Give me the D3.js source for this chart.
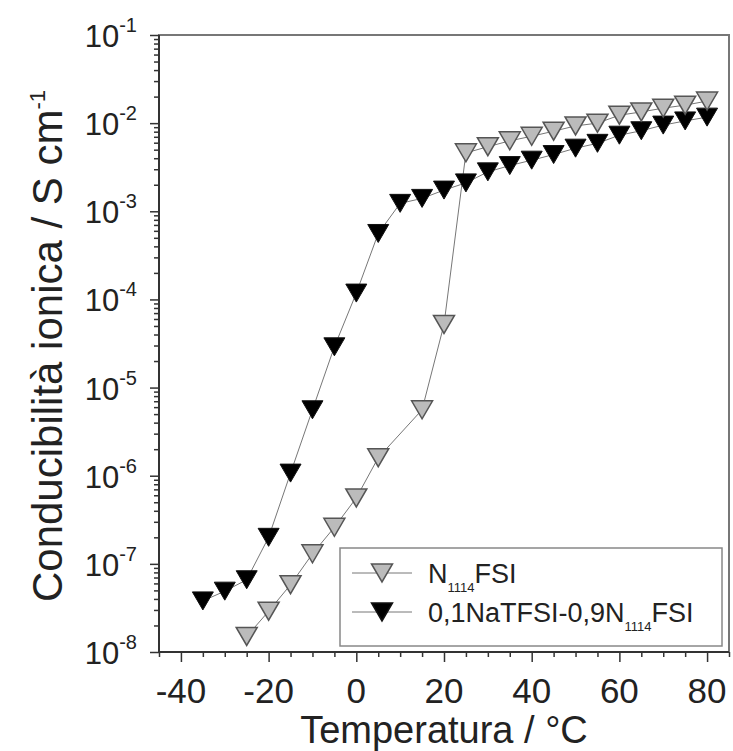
<!DOCTYPE html>
<html>
<head>
<meta charset="utf-8">
<script src="https://cdn.jsdelivr.net/npm/d3@7"></script>
<style>
  body { margin: 0; background: #fff; }
  svg text { font-family: "Liberation Sans", Arial, sans-serif; fill: #222; }
</style>
</head>
<body>
<svg id="chart" width="733" height="751"></svg>
<script>
// temperature in °C, conductivity in S cm-1
const tempPure = [-25, -20, -15, -10, -5, 0, 5, 15, 20, 25, 30, 35, 40, 45, 50, 55, 60, 65, 70, 75, 80];
const condPure = [1.5e-8, 2.9e-8, 5.8e-8, 1.3e-7, 2.6e-7, 5.6e-7, 1.6e-6, 5.6e-6, 5.2e-5,
  4.6e-3, 5.4e-3, 6.3e-3, 7.1e-3, 8.1e-3, 9.3e-3, 1.0e-2, 1.23e-2, 1.34e-2, 1.48e-2, 1.6e-2, 1.78e-2];

const tempNa = [-35, -30, -25, -20, -15, -10, -5, 0, 5, 10, 15, 20, 25, 30, 35, 40, 45, 50, 55, 60, 65, 70, 75, 80];
const condNa = [3.8e-8, 4.9e-8, 6.6e-8, 2.0e-7, 1.07e-6, 5.6e-6, 2.9e-5, 1.18e-4, 5.6e-4, 1.23e-3,
  1.4e-3, 1.74e-3, 2.1e-3, 2.8e-3, 3.3e-3, 3.8e-3, 4.4e-3, 5.2e-3, 5.9e-3, 7.3e-3, 8.2e-3, 9.5e-3, 1.06e-2, 1.17e-2];

const xTicks = [-40, -20, 0, 20, 40, 60, 80];
const yDecades = [-8, -7, -6, -5, -4, -3, -2, -1];

const seriesNames = ["N", "0,1NaTFSI-0,9N"];

const svg = d3.select("#chart");
const pLeft = 159, pRight = 729, pTop = 35, pBottom = 652;

const x = d3.scaleLinear().domain([-45, 85]).range([pLeft, pRight]);
const y = d3.scaleLog().domain([1e-8, 1e-1]).range([pBottom, pTop]);

// minor ticks
let xMinor = d3.range(-45, 86, 5).filter(v => xTicks.indexOf(v) < 0);
let yMinor = [];
for (let e = -8; e < -1; e++) {
  for (let k = 2; k <= 9; k++) yMinor.push(k * Math.pow(10, e));
}

// frame (top and right)
svg.append("rect")
  .attr("x", pLeft).attr("y", pTop)
  .attr("width", pRight - pLeft).attr("height", pBottom - pTop)
  .attr("fill", "none").attr("stroke", "#777").attr("stroke-width", 2);

// x axis
const xAxisMinor = d3.axisBottom(x).tickValues(xMinor).tickSize(5).tickFormat("");
const xAxisMajor = d3.axisBottom(x).tickValues(xTicks).tickSize(10).tickFormat("");
svg.append("g").attr("transform", "translate(0," + pBottom + ")").call(xAxisMinor);
svg.append("g").attr("transform", "translate(0," + pBottom + ")").call(xAxisMajor);

svg.append("g").selectAll("text")
  .data(xTicks).enter()
  .append("text")
  .attr("x", d => x(d))
  .attr("y", pBottom + 51)
  .attr("text-anchor", "middle")
  .attr("font-size", 35)
  .text(d => d);

// y axis
const yAxisMinor = d3.axisLeft(y).tickValues(yMinor).tickSize(5).tickFormat("");
const yAxisMajor = d3.axisLeft(y).tickValues(yDecades.map(e => Math.pow(10, e))).tickSize(9).tickFormat("");
svg.append("g").attr("transform", "translate(" + pLeft + ",0)").call(yAxisMinor);
svg.append("g").attr("transform", "translate(" + pLeft + ",0)").call(yAxisMajor);
svg.selectAll(".domain").remove();
svg.selectAll(".tick line").attr("stroke", "#333").attr("stroke-width", 1.5);

let yLab = svg.append("g").selectAll("text")
  .data(yDecades).enter()
  .append("text")
  .attr("x", 137)
  .attr("y", d => y(Math.pow(10, d)) + 12)
  .attr("text-anchor", "end")
  .attr("font-size", 31);
yLab.append("tspan").text("10");
yLab.append("tspan").attr("dy", -15).attr("font-size", 20).text(d => d);

// left and bottom axis lines
svg.append("line").attr("x1", pLeft).attr("x2", pLeft).attr("y1", pTop).attr("y2", pBottom)
  .attr("stroke", "#333").attr("stroke-width", 2);
svg.append("line").attr("x1", pLeft).attr("x2", pRight).attr("y1", pBottom).attr("y2", pBottom)
  .attr("stroke", "#333").attr("stroke-width", 2);

// axis titles
svg.append("text")
  .attr("x", (pLeft + pRight) / 2)
  .attr("y", 743)
  .attr("text-anchor", "middle")
  .attr("font-size", 38)
  .text("Temperatura / °C");

let yTitle = svg.append("text")
  .attr("transform", "translate(62,346) rotate(-90)")
  .attr("text-anchor", "middle")
  .attr("font-size", 42);
yTitle.append("tspan").text("Conducibilità ionica / S cm");
yTitle.append("tspan").attr("dy", -17).attr("font-size", 22).text("-1");

// triangle pointing down, centred on the point
function triangle(cx, cy) {
  const w = 21, h = 18;
  return "M" + (cx - w / 2) + "," + (cy - h / 2) + "L" + (cx + w / 2) + "," + (cy - h / 2) +
    "L" + cx + "," + (cy + h / 2) + "Z";
}

const line = d3.line().x(d => x(d[0])).y(d => y(d[1]));

const pure = tempPure.map((t, i) => [t, condPure[i]]);
const na = tempNa.map((t, i) => [t, condNa[i]]);

svg.append("path").datum(na).attr("d", line)
  .attr("fill", "none").attr("stroke", "#777").attr("stroke-width", 1);
svg.append("path").datum(pure).attr("d", line)
  .attr("fill", "none").attr("stroke", "#777").attr("stroke-width", 1);

svg.append("g").selectAll("path")
  .data(na).enter()
  .append("path")
  .attr("d", d => triangle(x(d[0]), y(d[1])))
  .attr("fill", "#000").attr("stroke", "#111").attr("stroke-width", 1);

svg.append("g").selectAll("path")
  .data(pure).enter()
  .append("path")
  .attr("d", d => triangle(x(d[0]), y(d[1])))
  .attr("fill", "#bbb").attr("stroke", "#555").attr("stroke-width", 1.5);

// legend
const leg = svg.append("g");
leg.append("rect")
  .attr("x", 340).attr("y", 548).attr("width", 382).attr("height", 98)
  .attr("fill", "#fff").attr("stroke", "#888").attr("stroke-width", 1.5);

const legRows = [
  { name: seriesNames[0], fill: "#bbb", stroke: "#555", y: 573 },
  { name: seriesNames[1], fill: "#000", stroke: "#111", y: 612 }
];
legRows.forEach(r => {
  leg.append("line").attr("x1", 352).attr("x2", 412).attr("y1", r.y).attr("y2", r.y)
    .attr("stroke", "#777").attr("stroke-width", 1);
  leg.append("path").attr("d", triangle(382, r.y))
    .attr("fill", r.fill).attr("stroke", r.stroke).attr("stroke-width", 1.5);
  let t = leg.append("text").attr("x", 428).attr("y", r.y + 10).attr("font-size", 27);
  t.append("tspan").text(r.name);
  t.append("tspan").attr("dy", 9).attr("font-size", 13).text("1114");
  t.append("tspan").attr("dy", -9).text("FSI");
});
</script>
</body>
</html>
